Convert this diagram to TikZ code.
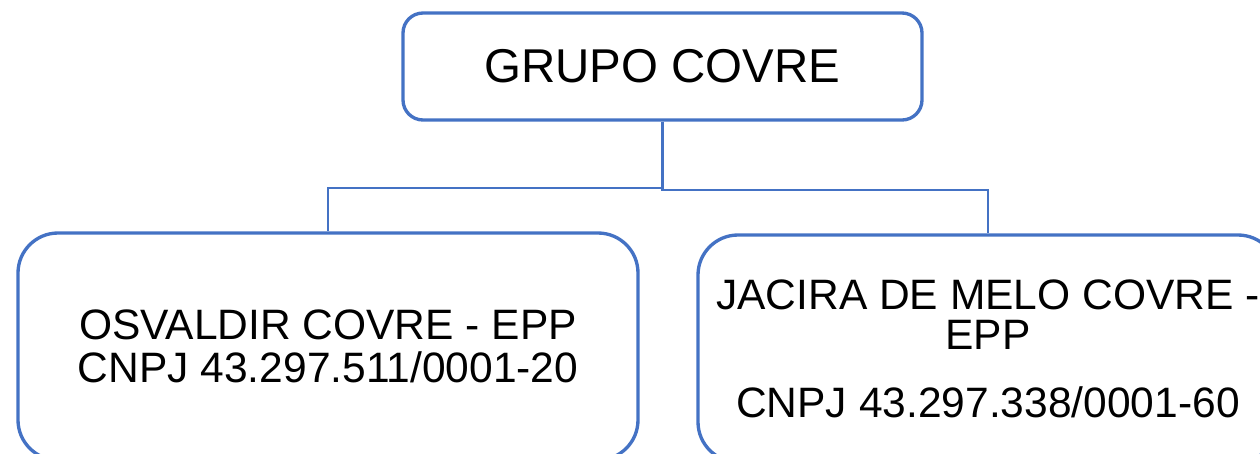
\documentclass[tikz,border=0pt]{standalone}
\usepackage{fontspec}
\setmainfont{Liberation Sans}
\usepackage{tikz}
\usepackage{xcolor}
\usetikzlibrary{
    calc,
    positioning
}
\definecolor{azulcovre}{RGB}{68,114,196}

\tikzset{
    caixa/.style={draw=azulcovre, line width=1.9pt, fill=white, align=center, inner sep=0pt},
    ligacao/.style={draw=azulcovre, line width=1.3pt}
}

\begin{document}
\begin{tikzpicture}
                        \clip (0, 0) rectangle (25.2, -9.06);

                        \node[caixa, rounded corners=0.4cm, minimum width=10.38cm, minimum height=2.14cm, font=\fontsize{27}{30}\selectfont] (grupo) at (13.25, -1.33) {GRUPO COVRE};

                        \node[caixa, rounded corners=0.8cm, minimum width=12.4cm, minimum height=4.54cm, font=\fontsize{24.2}{24.5}\selectfont] (osvaldir) at (6.56, -6.93) {OSVALDIR COVRE - EPP\\CNPJ 43.297.511/0001-20};
                        \node[caixa, rounded corners=0.8cm, minimum width=11.6cm, minimum height=4.54cm, font=\fontsize{24.2}{22.8}\selectfont] (jacira) at (19.76, -6.97) {JACIRA DE MELO COVRE -\\EPP\\[16pt]CNPJ 43.297.338/0001-60};

                        \draw[ligacao] (grupo.south) -- ++(0, -1.32) -| (osvaldir.north);
                        \draw[ligacao] (grupo.south) -- ++(0, -1.36) -| (jacira.north);
                    \end{tikzpicture}
\end{document}
